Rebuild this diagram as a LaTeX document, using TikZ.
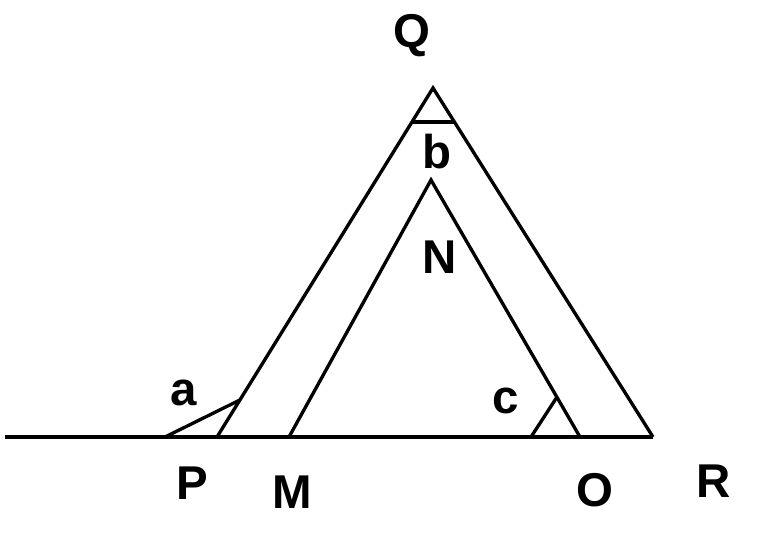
\documentclass[tikz,border=0pt]{standalone}
\usepackage{fontspec}
\setmainfont{Liberation Sans}
\usetikzlibrary{calc}

\begin{document}
\begin{tikzpicture}[x=0.02cm, y=-0.02cm, line width=1.9pt,
    lbl/.style={font=\fontsize{27}{27}\selectfont\bfseries, inner sep=0pt}]
    \useasboundingbox (0,0) rectangle (764,546);
    \coordinate (s) at (5,437);
    \coordinate (p) at (217,437);
    \coordinate (m) at (289,437);
    \coordinate (o) at (580,437);
    \coordinate (r) at (653,437);
    \coordinate (q) at (433,88);
    \coordinate (n) at (431,180);
    \coordinate (a1) at (165,437);
    \coordinate (a2) at ($(p)!0.106!(q)$);
    \coordinate (b1) at ($(q)!0.097!(p)$);
    \coordinate (b2) at ($(q)!0.097!(r)$);
    \coordinate (c1) at (531,437);
    \coordinate (c2) at ($(o)!0.155!(n)$);

    \node[lbl] (Q) at (412,36) {Q};
    \node[lbl] (b) at (437,152) {b};
    \node[lbl] (N) at (440,257) {N};
    \node[lbl] (a) at (184,393) {a};
    \node[lbl] (c) at (506,401) {c};
    \node[lbl] (P) at (192,483) {P};
    \node[lbl] (M) at (292,492) {M};
    \node[lbl] (O) at (595,490) {O};
    \node[lbl] (R) at (714,481) {R};

    \draw (s) -- (r);
    \draw[line join=miter] (p) -- (q) -- (r);
    \draw[line join=miter] (m) -- (n) -- (o);
    \draw (a1) -- (a2);
    \draw (b1) -- (b2);
    \draw (c1) -- (c2);
  \end{tikzpicture}
\end{document}
